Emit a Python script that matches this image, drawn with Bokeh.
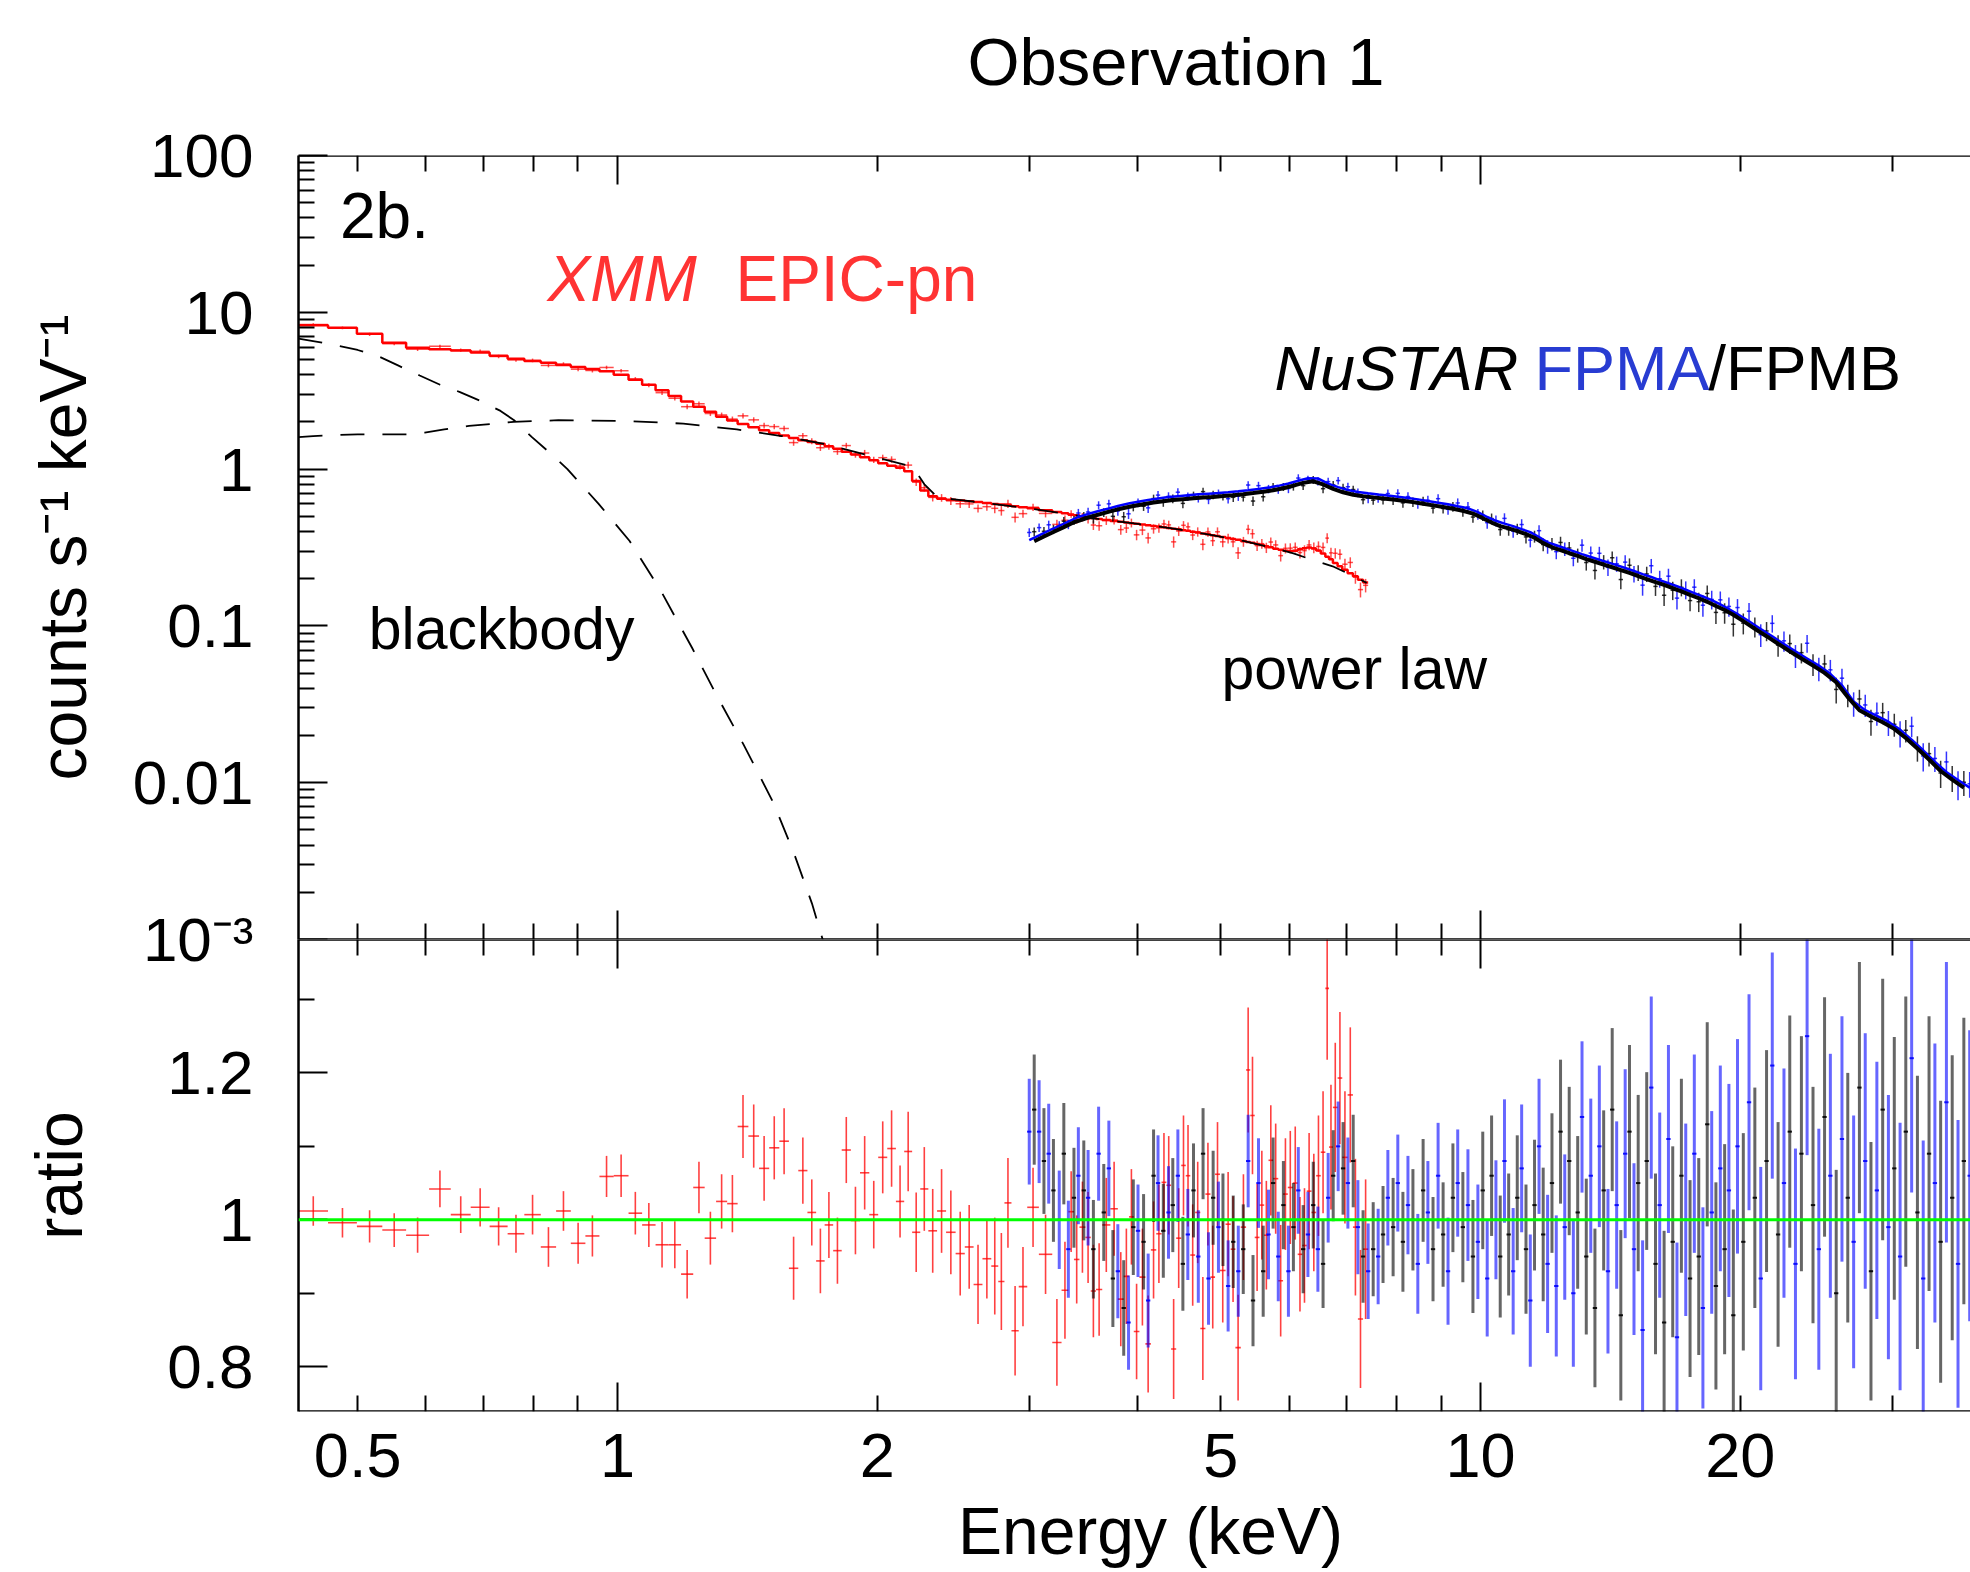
import numpy as np
from bokeh.plotting import figure
from bokeh.layouts import column
from bokeh.models import (ColumnDataSource, LogAxis, LinearAxis, FixedTicker,
                          Range1d, Label, Span)
from bokeh.embed import file_html
from bokeh.resources import INLINE

FONT = "Liberation Sans"

# ------------------------------------------------------------------ XMM EPIC-pn
xmm_edges = [
    0.427, 0.462, 0.499, 0.534, 0.569, 0.605, 0.641, 0.676, 0.711, 0.746,
    0.780, 0.815, 0.849, 0.883, 0.918, 0.953, 0.990, 1.030, 1.068, 1.107,
    1.146, 1.185, 1.224, 1.262, 1.301, 1.340, 1.378, 1.418, 1.459, 1.499,
    1.540, 1.580, 1.620, 1.660, 1.699, 1.738, 1.778, 1.819, 1.864, 1.910,
    1.958, 2.005, 2.054, 2.102, 2.149, 2.195, 2.243, 2.292, 2.346, 2.403,
    2.465, 2.526, 2.586, 2.648, 2.711, 2.762, 2.808, 2.861, 2.917, 2.984,
    3.078, 3.190, 3.270, 3.330, 3.380, 3.430, 3.485, 3.535, 3.585, 3.645,
    3.725, 3.800, 3.860, 3.915, 3.965, 4.025, 4.090, 4.150, 4.210, 4.270,
    4.325, 4.380, 4.440, 4.500, 4.555, 4.610, 4.670, 4.735, 4.800, 4.865,
    4.925, 4.990, 5.065, 5.135, 5.200, 5.275, 5.350, 5.410, 5.475, 5.545,
    5.615, 5.680, 5.750, 5.830, 5.905, 5.980, 6.060, 6.140, 6.215, 6.290,
    6.370, 6.450, 6.530, 6.610, 6.675, 6.745, 6.830, 6.915, 7.015, 7.115,
    7.210, 7.310, 7.410]

xmm_model = [
    8.26, 7.98, 7.30, 6.40, 5.94, 5.82, 5.70, 5.55, 5.28, 5.06,
    4.90, 4.76, 4.62, 4.48, 4.35, 4.20, 4.00, 3.72, 3.45, 3.18,
    2.93, 2.70, 2.50, 2.32, 2.16, 2.04, 1.94, 1.85, 1.77, 1.70,
    1.64, 1.58, 1.53, 1.49, 1.45, 1.40, 1.35, 1.29, 1.24, 1.19,
    1.14, 1.09, 1.05, 1.02, 0.97, 0.84, 0.73, 0.67, 0.648, 0.638,
    0.630, 0.623, 0.616, 0.608, 0.600, 0.594, 0.588, 0.580, 0.572, 0.562,
    0.547, 0.533, 0.522, 0.512, 0.507, 0.499, 0.493, 0.487, 0.481, 0.474,
    0.466, 0.461, 0.456, 0.452, 0.449, 0.443, 0.438, 0.434, 0.430, 0.425,
    0.421, 0.417, 0.413, 0.408, 0.404, 0.399, 0.394, 0.389, 0.384, 0.379,
    0.375, 0.369, 0.363, 0.358, 0.354, 0.348, 0.343, 0.339, 0.333, 0.328,
    0.322, 0.317, 0.311, 0.306, 0.302, 0.300, 0.302, 0.308, 0.313, 0.316,
    0.312, 0.303, 0.290, 0.276, 0.266, 0.252, 0.240, 0.228, 0.217, 0.207,
    0.197, 0.189]

xmm_ratio = [
    1.012, 0.996, 0.991, 0.986, 0.979, 1.042, 1.007, 1.017, 0.991, 0.981,
    1.007, 0.963, 1.012, 0.968, 0.978, 1.059, 1.060, 1.009, 0.993, 0.966,
    0.966, 0.926, 1.044, 0.975, 1.025, 1.022, 1.127, 1.114, 1.070, 1.098,
    1.107, 0.934, 1.067, 1.010, 0.944, 0.993, 0.958, 1.095, 0.999, 1.064,
    1.007, 1.085, 1.097, 1.025, 1.093, 0.983, 1.042, 0.985, 1.012, 0.983,
    0.954, 0.963, 0.912, 0.947, 0.937, 0.916, 1.023, 0.849, 0.909, 1.017,
    0.953, 0.833, 0.904, 1.011, 0.946, 0.990, 0.976, 0.903, 0.905, 0.993,
    1.015, 0.892, 0.923, 1.004, 0.848, 0.922, 0.831, 0.959, 0.981, 1.051,
    1.047, 0.824, 0.975, 1.074, 1.060, 0.952, 1.010, 0.852, 1.035, 0.922,
    1.062, 0.931, 0.994, 0.960, 0.826, 0.990, 1.204, 1.142, 0.976, 1.020,
    0.979, 1.081, 1.056, 0.917, 1.035, 1.044, 1.050, 0.953, 0.965, 1.039,
    1.010, 1.060, 1.092, 1.315, 1.099, 1.153, 1.193, 1.085, 1.170, 0.990,
    0.865, 0.960]

xmm_err = [
    0.020, 0.020, 0.022, 0.023, 0.024, 0.025, 0.025, 0.026, 0.026, 0.026,
    0.027, 0.027, 0.027, 0.028, 0.028, 0.028, 0.029, 0.029, 0.030, 0.031,
    0.032, 0.033, 0.035, 0.036, 0.037, 0.039, 0.043, 0.043, 0.044, 0.043,
    0.045, 0.043, 0.045, 0.045, 0.044, 0.045, 0.045, 0.045, 0.046, 0.050,
    0.046, 0.049, 0.052, 0.049, 0.054, 0.054, 0.057, 0.057, 0.057, 0.057,
    0.057, 0.057, 0.054, 0.054, 0.066, 0.066, 0.061, 0.061, 0.054, 0.054,
    0.054, 0.059, 0.066, 0.055, 0.060, 0.062, 0.062, 0.063, 0.063, 0.064,
    0.064, 0.064, 0.065, 0.065, 0.065, 0.066, 0.066, 0.066, 0.067, 0.067,
    0.067, 0.068, 0.068, 0.068, 0.069, 0.069, 0.069, 0.070, 0.070, 0.070,
    0.071, 0.071, 0.071, 0.072, 0.072, 0.072, 0.085, 0.080, 0.073, 0.074,
    0.074, 0.075, 0.075, 0.076, 0.076, 0.077, 0.077, 0.078, 0.078, 0.079,
    0.080, 0.082, 0.083, 0.097, 0.085, 0.088, 0.090, 0.090, 0.092, 0.093,
    0.094, 0.095]

# model components (dashed)
bb_energy = [0.427, 0.444, 0.470, 0.500, 0.530, 0.556, 0.590, 0.623, 0.657,
             0.694, 0.732, 0.759, 0.796, 0.839, 0.875, 0.951, 1.033, 1.123,
             1.221, 1.303, 1.400, 1.515, 1.600, 1.680, 1.750]
bb_counts = [6.80, 6.55, 6.20, 5.75, 5.20, 4.60, 3.95, 3.45, 3.10,
             2.72, 2.35, 2.05, 1.60, 1.24, 1.00, 0.60, 0.348, 0.167,
             0.072, 0.036, 0.0175, 0.0075, 0.0036, 0.0017, 0.0008]

pl_energy = [0.427, 0.444, 0.500, 0.570, 0.598, 0.630, 0.673, 0.758, 0.854,
             1.021, 1.192, 1.375, 1.550, 1.745, 1.966, 2.180, 2.230, 2.268,
             2.350, 2.500, 2.680, 3.000, 3.300, 3.630, 3.990, 4.390, 4.830,
             5.310, 5.840, 6.070, 6.330, 6.740, 7.070, 7.380]
pl_counts = [1.60, 1.625, 1.667, 1.667, 1.71, 1.79, 1.884, 2.00, 2.05,
             2.03, 1.95, 1.79, 1.625, 1.44, 1.21, 1.047, 0.92, 0.80,
             0.657, 0.635, 0.605, 0.562, 0.519, 0.478, 0.449, 0.419, 0.384,
             0.348, 0.308, 0.290, 0.268, 0.240, 0.212, 0.188]

# ------------------------------------------------------------------ NuSTAR
# bins alternate: even index -> FPMA, odd index -> FPMB
nu_energy = [
    3.00, 3.04, 3.08, 3.12, 3.16, 3.20, 3.25, 3.29, 3.33, 3.38,
    3.42, 3.47, 3.51, 3.56, 3.61, 3.66, 3.71, 3.75, 3.80, 3.86,
    3.91, 3.96, 4.01, 4.07, 4.12, 4.18, 4.23, 4.29, 4.35, 4.40,
    4.46, 4.52, 4.58, 4.65, 4.71, 4.77, 4.84, 4.90, 4.97, 5.03,
    5.10, 5.17, 5.24, 5.31, 5.38, 5.45, 5.53, 5.60, 5.68, 5.75,
    5.83, 5.91, 5.99, 6.07, 6.15, 6.23, 6.31, 6.40, 6.48, 6.57,
    6.66, 6.75, 6.84, 6.93, 7.02, 7.12, 7.21, 7.31, 7.41, 7.51,
    7.61, 7.71, 7.81, 7.92, 8.02, 8.13, 8.24, 8.35, 8.46, 8.58,
    8.69, 8.81, 8.93, 9.05, 9.17, 9.29, 9.41, 9.54, 9.67, 9.80,
    9.93, 10.06, 10.18, 10.30, 10.42, 10.54, 10.66, 10.78, 10.91, 11.03,
    11.16, 11.29, 11.42, 11.55, 11.69, 11.82, 11.96, 12.10, 12.24, 12.38,
    12.52, 12.67, 12.81, 12.96, 13.11, 13.26, 13.42, 13.57, 13.73, 13.89,
    14.05, 14.21, 14.38, 14.54, 14.71, 14.88, 15.06, 15.23, 15.41, 15.58,
    15.77, 15.95, 16.13, 16.32, 16.51, 16.70, 16.89, 17.09, 17.29, 17.49,
    17.69, 17.90, 18.10, 18.31, 18.53, 18.74, 18.96, 19.18, 19.40, 19.63,
    19.85, 20.16, 20.47, 20.79, 21.12, 21.45, 21.78, 22.12, 22.47, 22.82,
    23.17, 23.54, 23.90, 24.28, 24.66, 25.04, 25.43, 25.83, 26.23, 26.64,
    27.06, 27.48, 27.91, 28.34, 28.79, 29.24, 29.69, 30.16, 30.63, 31.10,
    31.59, 32.08, 32.58, 33.09, 33.61, 34.13, 34.66, 35.20, 35.75, 36.31,
    36.88]

nu_model = [
    0.352, 0.365, 0.378, 0.391, 0.405, 0.418, 0.435, 0.449, 0.463, 0.482,
    0.495, 0.506, 0.517, 0.529, 0.540, 0.551, 0.561, 0.572, 0.582, 0.594,
    0.603, 0.612, 0.620, 0.629, 0.636, 0.644, 0.650, 0.657, 0.663, 0.668,
    0.672, 0.677, 0.681, 0.685, 0.690, 0.694, 0.697, 0.700, 0.704, 0.708,
    0.712, 0.717, 0.722, 0.727, 0.733, 0.740, 0.747, 0.754, 0.762, 0.771,
    0.782, 0.795, 0.809, 0.825, 0.843, 0.860, 0.874, 0.880, 0.872, 0.840,
    0.808, 0.787, 0.768, 0.749, 0.735, 0.722, 0.714, 0.707, 0.701, 0.695,
    0.689, 0.684, 0.678, 0.673, 0.667, 0.661, 0.655, 0.648, 0.641, 0.633,
    0.626, 0.618, 0.611, 0.603, 0.596, 0.588, 0.579, 0.571, 0.562, 0.548,
    0.532, 0.512, 0.495, 0.480, 0.468, 0.456, 0.449, 0.441, 0.433, 0.423,
    0.414, 0.405, 0.396, 0.384, 0.368, 0.355, 0.341, 0.334, 0.327, 0.320,
    0.313, 0.306, 0.300, 0.294, 0.287, 0.281, 0.275, 0.270, 0.264, 0.259,
    0.254, 0.249, 0.244, 0.239, 0.234, 0.229, 0.224, 0.219, 0.214, 0.209,
    0.205, 0.200, 0.196, 0.192, 0.187, 0.183, 0.179, 0.175, 0.170, 0.166,
    0.162, 0.158, 0.154, 0.150, 0.146, 0.141, 0.137, 0.133, 0.128, 0.124,
    0.119, 0.113, 0.107, 0.101, 0.0955, 0.0905, 0.0858, 0.0810, 0.0765, 0.0725,
    0.0688, 0.0652, 0.0620, 0.0588, 0.0558, 0.0528, 0.0495, 0.0460, 0.0418, 0.0370,
    0.0330, 0.0305, 0.0290, 0.0278, 0.0267, 0.0256, 0.0245, 0.0232, 0.0218, 0.0203,
    0.0188, 0.0174, 0.0161, 0.0148, 0.0136, 0.0125, 0.0117, 0.0110, 0.0104, 0.0098,
    0.0093]

nu_ratio = [
    1.12, 1.15, 1.12, 1.08, 1.09, 1.04, 1.00, 1.09, 0.96, 1.03,
    1.06, 1.04, 1.03, 0.96, 1.09, 1.01, 1.07, 0.92, 0.93, 0.88,
    0.86, 0.99, 0.985, 0.97, 0.89, 1.06, 1.05, 0.985, 1.01, 1.02,
    1.06, 0.94, 0.98, 1.04, 0.95, 1.09, 0.92, 1.03, 0.99, 1.00,
    0.91, 0.97, 0.93, 0.96, 1.08, 0.89, 1.05, 0.93, 0.98, 1.05,
    0.95, 1.02, 0.93, 0.99, 1.04, 0.96, 0.98, 1.02, 0.96, 0.94,
    1.03, 1.06, 1.10, 1.07, 1.05, 1.08, 0.99, 0.95, 0.93, 0.96,
    0.95, 0.98, 1.03, 0.99, 1.05, 0.97, 1.02, 1.00, 0.94, 1.04,
    1.01, 0.96, 1.06, 0.98, 0.93, 1.03, 1.05, 0.99, 1.02, 0.95,
    0.97, 1.04, 0.92, 1.06, 1.00, 0.95, 1.08, 0.98, 0.93, 1.03,
    1.07, 0.96, 0.89, 1.02, 1.10, 0.98, 0.94, 1.05, 0.91, 1.12,
    0.99, 1.08, 0.90, 1.01, 1.14, 0.95, 1.06, 0.88, 1.10, 1.04,
    0.93, 1.15, 1.02, 0.87, 1.09, 1.12, 0.96, 1.05, 0.85, 1.08,
    1.18, 0.94, 1.02, 0.86, 1.11, 0.97, 0.84, 1.06, 1.00, 0.92,
    1.09, 0.95, 0.88, 1.13, 1.01, 0.91, 1.07, 0.96, 1.04, 0.87,
    1.10, 0.97, 1.16, 1.03, 0.92, 1.08, 1.21, 0.98, 1.05, 1.12,
    0.94, 1.09, 1.25, 1.02, 0.96, 1.14, 1.06, 0.90, 1.11, 1.03,
    0.97, 1.18, 1.08, 0.93, 1.04, 1.15, 0.99, 1.07, 0.95, 1.12,
    1.22, 1.01, 0.92, 1.09, 1.05, 0.97, 1.16, 1.03, 0.94, 1.08,
    1.06]

nu_err = [
    0.072, 0.075, 0.070, 0.072, 0.068, 0.070, 0.067, 0.069, 0.066, 0.068,
    0.066, 0.068, 0.065, 0.067, 0.064, 0.066, 0.065, 0.066, 0.064, 0.065,
    0.064, 0.065, 0.063, 0.065, 0.064, 0.063, 0.065, 0.064, 0.063, 0.064,
    0.063, 0.064, 0.062, 0.064, 0.063, 0.062, 0.063, 0.064, 0.062, 0.063,
    0.062, 0.063, 0.062, 0.061, 0.063, 0.062, 0.061, 0.062, 0.061, 0.062,
    0.061, 0.060, 0.062, 0.060, 0.059, 0.060, 0.058, 0.059, 0.058, 0.060,
    0.061, 0.062, 0.061, 0.063, 0.062, 0.063, 0.064, 0.063, 0.065, 0.064,
    0.065, 0.066, 0.065, 0.067, 0.066, 0.068, 0.067, 0.069, 0.068, 0.070,
    0.070, 0.071, 0.072, 0.071, 0.073, 0.074, 0.073, 0.075, 0.076, 0.077,
    0.078, 0.080, 0.079, 0.082, 0.081, 0.083, 0.084, 0.083, 0.086, 0.085,
    0.087, 0.088, 0.090, 0.089, 0.092, 0.091, 0.094, 0.095, 0.096, 0.098,
    0.099, 0.101, 0.100, 0.104, 0.103, 0.106, 0.105, 0.108, 0.110, 0.109,
    0.112, 0.111, 0.114, 0.116, 0.115, 0.118, 0.117, 0.120, 0.122, 0.121,
    0.124, 0.123, 0.126, 0.125, 0.128, 0.130, 0.129, 0.132, 0.131, 0.134,
    0.135, 0.134, 0.137, 0.139, 0.138, 0.141, 0.140, 0.143, 0.145, 0.144,
    0.146, 0.148, 0.147, 0.150, 0.152, 0.151, 0.154, 0.153, 0.156, 0.158,
    0.157, 0.160, 0.162, 0.161, 0.164, 0.163, 0.166, 0.168, 0.167, 0.170,
    0.172, 0.171, 0.174, 0.176, 0.175, 0.178, 0.180, 0.179, 0.182, 0.184,
    0.183, 0.186, 0.188, 0.187, 0.190, 0.192, 0.191, 0.194, 0.196, 0.195,
    0.198]

FPMB_CONST = 0.95   # FPMB / FPMA cross-normalisation

# ------------------------------------------------------------------ axes
E_MIN, E_MAX = 0.427, 36.96
COUNTS_MIN, COUNTS_MAX = 1e-3, 100.0
RATIO_MIN, RATIO_MAX = 0.739, 1.3816

x_label_ticks = [0.5, 1, 2, 5, 10, 20]
x_label_text = ["0.5", "1", "2", "5", "10", "20"]
x_long_ticks = [1, 10]
x_short_ticks = [0.5, 0.6, 0.7, 0.8, 0.9, 2, 3, 4, 5, 6, 7, 8, 9, 20, 30]
counts_ticks = [1e-3, 0.01, 0.1, 1.0, 10.0, 100.0]
counts_text = ["10\u207b\u00b3", "0.01", "0.1", "1", "10", "100"]
counts_minor = [k * 10.0 ** d for d in range(-3, 2) for k in range(2, 10)]
ratio_ticks = [0.8, 1.0, 1.2]
ratio_text = ["0.8", "1", "1.2"]
ratio_minor = [0.9, 1.1, 1.3]

RED = "#ff0000"
BLUE = "#0000ff"
XMM_TXT = "#ff3333"
FPMA_TXT = "#283cd2"

TITLE_H = 120         # strip holding the title, overlapped by the top panel
OVERLAP = 40          # px of the top canvas that sit under the ratio panel
XLAB_H = 80           # strip holding the x title, laid over the ratio panel
TOP_H, BOT_H = 939 + OVERLAP, 633

# ------------------------------------------------------------------ derived
n = min(len(xmm_model), len(xmm_ratio), len(xmm_err), len(xmm_edges) - 1)
edges = np.array(xmm_edges[:n + 1])
lo, hi = edges[:-1], edges[1:]
xc = np.sqrt(lo * hi)
xm = np.array(xmm_model[:n])
xr = np.array(xmm_ratio[:n])
xe = np.array(xmm_err[:n])

step_x = np.column_stack([lo, hi]).ravel()
step_y = np.column_stack([xm, xm]).ravel()

k = min(len(nu_energy), len(nu_model), len(nu_ratio), len(nu_err))
ne = np.array(nu_energy[:k])
nm = np.array(nu_model[:k])
nr = np.array(nu_ratio[:k])
nerr = np.array(nu_err[:k])
HALF = 10 ** 0.0025


def nu_parts(sl, norm):
    e = ne[sl]
    mm = nm[sl] * norm
    rr = nr[sl]
    ee = nerr[sl]
    return dict(
        top_v=ColumnDataSource(dict(x=e, y0=mm * (rr - ee), y1=mm * (rr + ee))),
        top_h=ColumnDataSource(dict(x0=e / HALF, x1=e * HALF, y=mm * rr)),
        rat_v=ColumnDataSource(dict(x=e, y0=rr - ee, y1=rr + ee)),
        rat_h=ColumnDataSource(dict(x0=e / HALF, x1=e * HALF, y=rr)),
        model=ColumnDataSource(dict(x=e, y=mm)),
    )


fpma = nu_parts(slice(0, None, 2), 1.0)
fpmb = nu_parts(slice(1, None, 2), FPMB_CONST)

xmm_top_v = ColumnDataSource(dict(x=xc, y0=xm * (xr - xe), y1=xm * (xr + xe)))
xmm_top_h = ColumnDataSource(dict(x0=lo, x1=hi, y=xm * xr))
xmm_rat_v = ColumnDataSource(dict(x=xc, y0=xr - xe, y1=xr + xe))
xmm_rat_h = ColumnDataSource(dict(x0=lo, x1=hi, y=xr))


# ------------------------------------------------------------------ helpers
def style(ax, major_in, minor_in):
    ax.major_tick_in = major_in
    ax.major_tick_out = 0
    ax.minor_tick_in = minor_in
    ax.minor_tick_out = 0
    ax.axis_line_width = 2.5
    ax.axis_line_color = "black"
    ax.major_tick_line_width = 2
    ax.minor_tick_line_width = 2
    ax.major_tick_line_color = "black"
    ax.minor_tick_line_color = "black"
    ax.major_label_text_font = FONT
    ax.major_label_text_color = "black"
    ax.axis_label_text_font = FONT
    ax.axis_label_text_font_style = "normal"
    ax.axis_label_text_color = "black"


def tick_only_x(fixed):
    ax = LogAxis(ticker=FixedTicker(ticks=x_long_ticks, minor_ticks=x_short_ticks),
                 fixed_location=fixed,
                 major_label_overrides={t: "" for t in x_long_ticks})
    style(ax, 29, 16)
    ax.major_label_text_font_size = "0px"
    ax.major_label_standoff = 0
    return ax


def add_text(p, text, x, y, size, color="black", fstyle="normal", x_offset=0,
             align="left"):
    p.add_layout(Label(x=x, y=y, text=text, x_offset=x_offset, y_offset=20,
                       text_font=FONT, text_font_size=size, text_color=color,
                       text_font_style=fstyle, text_align=align,
                       text_baseline="alphabetic"))


def strip_fig(height):
    f = figure(width=1970, height=height, x_range=x_range, y_range=Range1d(0, 1),
               x_axis_type="log", x_axis_location=None, y_axis_location=None,
               output_backend="svg", toolbar_location=None,
               min_border_left=298, min_border_right=0,
               min_border_top=0, min_border_bottom=0,
               outline_line_color=None, background_fill_color=None,
               border_fill_color=None)
    f.grid.visible = False
    return f


x_range = Range1d(E_MIN, E_MAX)

# ------------------------------------------------------------------ title strip
p0 = strip_fig(TITLE_H)
add_text(p0, "Observation 1", 2.544, 1 - 81 / TITLE_H, "67px")

# ------------------------------------------------------------------ top panel
p1 = figure(width=1970, height=TOP_H, x_range=x_range,
            y_range=Range1d(COUNTS_MIN, COUNTS_MAX),
            x_axis_type="log", y_axis_type="log",
            x_axis_location=None, y_axis_location=None,
            output_backend="svg", toolbar_location=None,
            min_border_left=298, min_border_right=0,
            min_border_top=155, min_border_bottom=OVERLAP,
            outline_line_color=None, background_fill_color="white",
            border_fill_color=None)
p1.grid.visible = False
p1.styles = {"margin-top": f"-{TITLE_H}px"}

ly = LogAxis(ticker=FixedTicker(ticks=counts_ticks, minor_ticks=counts_minor),
             major_label_overrides=dict(zip(counts_ticks, counts_text)),
             axis_label="counts s\u207b\u00b9 keV\u207b\u00b9")
style(ly, 29, 16)
ly.major_label_text_font_size = "62px"
ly.major_label_standoff = 45
ly.axis_label_text_font_size = "66px"
ly.axis_label_standoff = 30
p1.add_layout(ly, "left")
p1.add_layout(tick_only_x(COUNTS_MAX), "above")
p1.add_layout(tick_only_x(COUNTS_MIN), "below")

# XMM
p1.segment(x0="x", y0="y0", x1="x", y1="y1", source=xmm_top_v,
           line_color=RED, line_width=1.5, line_alpha=0.7)
p1.segment(x0="x0", y0="y", x1="x1", y1="y", source=xmm_top_h,
           line_color=RED, line_width=1.5, line_alpha=0.7)
p1.line(step_x, step_y, line_color=RED, line_width=2.5)
p1.line(bb_energy, bb_counts, line_color="black", line_width=1.8, line_dash="24 18")
p1.line(pl_energy, pl_counts, line_color="black", line_width=1.8, line_dash="24 18")

# NuSTAR
for parts, col in ((fpma, BLUE), (fpmb, "black")):
    p1.segment(x0="x", y0="y0", x1="x", y1="y1", source=parts["top_v"],
               line_color=col, line_width=1.5, line_alpha=0.8)
    p1.segment(x0="x0", y0="y", x1="x1", y1="y", source=parts["top_h"],
               line_color=col, line_width=1.5, line_alpha=0.8)
p1.line("x", "y", source=fpma["model"], line_color=BLUE, line_width=2.5)
p1.line("x", "y", source=fpmb["model"], line_color="black", line_width=4)

add_text(p1, "2b.", 0.477, 30.7, "64px")
add_text(p1, "XMM", 0.8296, 12.1, "64px", XMM_TXT, "italic")
add_text(p1, "EPIC-pn", 0.8296, 12.1, "64px", XMM_TXT, x_offset=188)
add_text(p1, "NuSTAR", 5.77, 3.30, "63px", "black", "italic")
add_text(p1, "FPMA", 5.77, 3.30, "63px", FPMA_TXT, x_offset=260)
add_text(p1, "/FPMB", 5.77, 3.30, "63px", "black", x_offset=434)
add_text(p1, "blackbody", 0.515, 0.0710, "59px")
add_text(p1, "power law", 5.01, 0.0393, "59px")

# ------------------------------------------------------------------ ratio panel
p2 = figure(width=1970, height=BOT_H, x_range=x_range,
            y_range=Range1d(RATIO_MIN, RATIO_MAX),
            x_axis_type="log",
            x_axis_location=None, y_axis_location=None,
            output_backend="svg", toolbar_location=None,
            min_border_left=298, min_border_right=0,
            min_border_top=0, min_border_bottom=161,
            outline_line_color=None, background_fill_color="white",
            border_fill_color=None)
p2.grid.visible = False
p2.styles = {"margin-top": f"-{OVERLAP}px"}

ry = LinearAxis(ticker=FixedTicker(ticks=ratio_ticks, minor_ticks=ratio_minor),
                major_label_overrides=dict(zip(ratio_ticks, ratio_text)),
                axis_label="ratio")
style(ry, 29, 16)
ry.major_label_text_font_size = "62px"
ry.major_label_standoff = 45
ry.axis_label_text_font_size = "66px"
ry.axis_label_standoff = 68
p2.add_layout(ry, "left")
p2.add_layout(tick_only_x(RATIO_MAX), "above")
p2.add_layout(tick_only_x(RATIO_MIN), "below")

bx = LogAxis(ticker=FixedTicker(ticks=x_label_ticks, minor_ticks=[]),
             major_label_overrides=dict(zip(x_label_ticks, x_label_text)))
style(bx, 0, 0)
bx.axis_line_color = None
bx.major_tick_line_color = None
bx.major_label_text_font_size = "63px"
bx.major_label_standoff = 22
p2.add_layout(bx, "below")

p2.segment(x0="x", y0="y0", x1="x", y1="y1", source=xmm_rat_v,
           line_color=RED, line_width=1.6, line_alpha=0.75)
p2.segment(x0="x0", y0="y", x1="x1", y1="y", source=xmm_rat_h,
           line_color=RED, line_width=1.6, line_alpha=0.75)
for parts, col in ((fpma, BLUE), (fpmb, "black")):
    p2.segment(x0="x", y0="y0", x1="x", y1="y1", source=parts["rat_v"],
               line_color=col, line_width=3, line_alpha=0.6)
    p2.segment(x0="x0", y0="y", x1="x1", y1="y", source=parts["rat_h"],
               line_color=col, line_width=2, line_alpha=0.9)
p2.add_layout(Span(location=1.0, dimension="width", line_color="#00ff00", line_width=3))

# ------------------------------------------------------------------ x-title strip
p3 = strip_fig(XLAB_H)
p3.styles = {"margin-top": f"-{XLAB_H}px"}
add_text(p3, "Energy (keV)", 4.146, 1 - 58 / XLAB_H, "66px", align="center")

layout = column(p0, p1, p2, p3, spacing=0)
with open("out.html", "w") as f:
    f.write(file_html(layout, INLINE))
